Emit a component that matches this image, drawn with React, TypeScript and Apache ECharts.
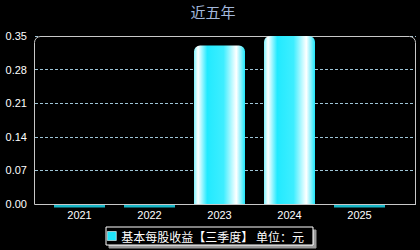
import React, { useEffect, useRef } from "react";
import * as echarts from "echarts";

const years = ["2021", "2022", "2023", "2024", "2025"];
const eps = [0, 0, 0.33, 0.35, 0];
const yTicks = { min: 0, max: 0.35, step: 0.07 };
const titleText = "近五年";
const seriesName = "基本每股收益【三季度】 单位：元";

const FONT = 'Arial, "Liberation Sans", "Noto Sans CJK SC", sans-serif';

export default function App() {
  const ref = useRef<HTMLDivElement>(null);

  useEffect(() => {
    if (!ref.current) return;
    const chart = echarts.init(ref.current, undefined, { renderer: "svg" });

    const barGradient = new echarts.graphic.LinearGradient(0, 0, 1, 0, [
      { offset: 0, color: "#7ff4ff" },
      { offset: 0.08, color: "#ffffff" },
      { offset: 0.26, color: "#22eaff" },
      { offset: 0.58, color: "#3eeeff" },
      { offset: 0.83, color: "#ffffff" },
      { offset: 1, color: "#1ee6fb" },
    ]);

    chart.setOption({
      animation: false,
      backgroundColor: "#000000",
      title: {
        text: titleText,
        left: 208,
        textAlign: "center",
        top: -1,
        textStyle: {
          color: "#a3b8dc",
          fontSize: 15,
          fontWeight: "normal",
          fontFamily: '"Noto Sans CJK SC", sans-serif',
        },
      },
      legend: {
        left: 106,
        top: 227,
        padding: [3, 9, 3, 1],
        backgroundColor: "#000000",
        borderColor: "#ffffff",
        borderWidth: 1,
        shadowColor: "#9a9a9a",
        shadowOffsetX: 3,
        shadowOffsetY: 3,
        shadowBlur: 0,
        itemWidth: 9,
        itemHeight: 9,
        itemGap: 5,
        icon: "rect",
        data: [{ name: seriesName, itemStyle: { color: "#20e4f8", borderColor: "#ffffff", borderWidth: 0.6 } }],
        textStyle: {
          color: "#ffffff",
          fontSize: 12,
          fontFamily: '"Noto Sans CJK SC", sans-serif',
        },
      },
      grid: [
        { left: 35, right: 4, top: 36, bottom: 46 },
        { left: 44.5, right: 25.5, top: 36, bottom: 46 },
      ],
      xAxis: [
        { type: "value", gridIndex: 0, show: false, min: 0, max: 1 },
        {
          type: "category",
          gridIndex: 1,
          data: years,
          axisLine: { show: false },
          axisTick: { show: false },
          axisLabel: { color: "#ffffff", fontSize: 11, margin: 5, fontFamily: FONT },
        },
      ],
      yAxis: [
        {
          type: "value",
          gridIndex: 0,
          min: yTicks.min,
          max: yTicks.max,
          interval: yTicks.step,
          axisLine: { show: false },
          axisTick: { show: false },
          axisLabel: {
            color: "#ffffff",
            fontSize: 11,
            margin: 8,
            fontFamily: FONT,
            formatter: (v: number) => v.toFixed(2),
          },
          splitLine: {
            show: true,
            lineStyle: { color: "#9ec4d6", width: 1, type: [3, 2] },
          },
        },
        {
          type: "value",
          gridIndex: 1,
          min: yTicks.min,
          max: yTicks.max,
          show: false,
          splitLine: { show: false },
        },
      ],
      graphic: [
        {
          type: "rect",
          z: 1,
          silent: true,
          shape: { x: 34.5, y: 36.5, width: 381, height: 168, r: [6, 6, 0, 0] },
          style: { fill: "none", stroke: "#c8c8c8", lineWidth: 1 },
        },
      ],
      series: [
        {
          name: seriesName,
          type: "bar",
          xAxisIndex: 1,
          yAxisIndex: 1,
          barWidth: 51,
          data: eps,
          itemStyle: { color: barGradient, borderRadius: [6, 6, 0, 0] },
          z: 3,
        },
        {
          name: seriesName,
          type: "scatter",
          xAxisIndex: 1,
          yAxisIndex: 1,
          clip: false,
          symbol: "rect",
          symbolSize: [51, 2.5],
          symbolOffset: [0, 2.3],
          itemStyle: { color: "#1ee4f8" },
          data: eps.map((v) => (v === 0 ? v : "-")),
          z: 3,
        },
      ],
    });

    return () => chart.dispose();
  }, []);

  return (
    <div
      ref={ref}
      style={{ position: "fixed", left: 0, top: 0, width: 420, height: 250, background: "#000" }}
    />
  );
}
